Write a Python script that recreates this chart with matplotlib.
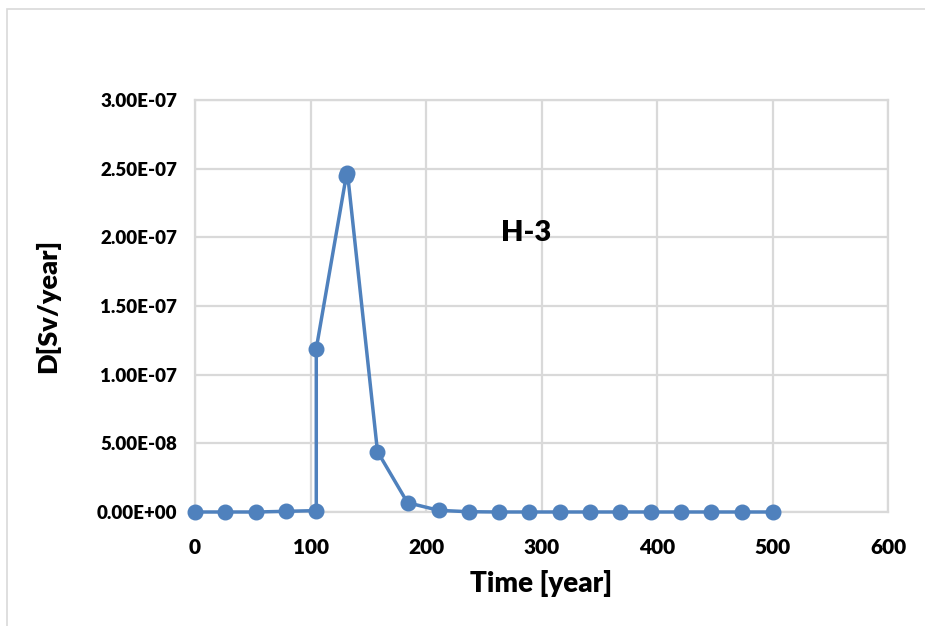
import matplotlib
matplotlib.use("Agg")
import matplotlib.pyplot as plt
from matplotlib.patches import Rectangle
from matplotlib.ticker import FuncFormatter

plt.rcParams['font.family'] = ['Lato', 'DejaVu Sans']

# valeurs
time_year = [0, 26, 53, 79, 105, 105, 131, 132, 158, 184, 211, 237, 263, 289,
             316, 342, 368, 395, 421, 447, 474, 500]
dose_sv = [0.0, 0.0, 0.0, 5e-10, 1e-9, 1.19e-7, 2.45e-7, 2.47e-7, 4.4e-8, 6.8e-9,
           1.2e-9, 2e-10, 0.0, 0.0, 0.0, 0.0, 0.0, 0.0, 0.0, 0.0, 0.0, 0.0]
x_ticks = [0, 100, 200, 300, 400, 500, 600]
y_ticks = [0, 5e-8, 1e-7, 1.5e-7, 2e-7, 2.5e-7, 3e-7]
label_nuclide = "H-3"

fig = plt.figure(figsize=(9.25, 6.26), dpi=100)
ax = fig.add_axes([195 / 925, 1 - 512 / 626, 693 / 925, 412 / 626])

# cadre du graphique (coupe a droite et en bas)
fig.patches.append(Rectangle((7 / 925, -0.05), 1.1, 1 - 9 / 626 + 0.05,
                             transform=fig.transFigure, fill=False,
                             edgecolor="#D9D9D9", linewidth=1.2))

ax.plot(time_year, dose_sv, color="#4F81BD", linewidth=2.5,
        marker="o", markersize=10.5, clip_on=False, zorder=3)

ax.set_xlim(0, 600)
ax.set_ylim(0, 3e-7)
ax.set_xticks(x_ticks)
ax.set_yticks(y_ticks)
ax.yaxis.set_major_formatter(FuncFormatter(
    lambda v, p: "0.00E+00" if v == 0 else "{:.2E}".format(v)))
ax.grid(True, color="#D9D9D9", linewidth=1.6)
ax.set_axisbelow(True)
for s in ax.spines.values():
    s.set_color("#D9D9D9")
    s.set_linewidth(1.6)
ax.tick_params(length=0)
ax.tick_params(axis="x", labelsize=15, pad=19)
ax.tick_params(axis="y", labelsize=13.5, pad=13)
for lab in ax.get_xticklabels() + ax.get_yticklabels():
    lab.set_fontweight("heavy")

ax.set_xlabel("Time [year]", fontsize=20, fontweight="heavy", labelpad=9)
ax.set_ylabel("D[Sv/year]", fontsize=19.5, fontweight="heavy", labelpad=26)
ax.text(287, 2.03e-7, label_nuclide, fontsize=21, fontweight="heavy",
        ha="center", va="center")

fig.savefig("out.png", dpi=100)
